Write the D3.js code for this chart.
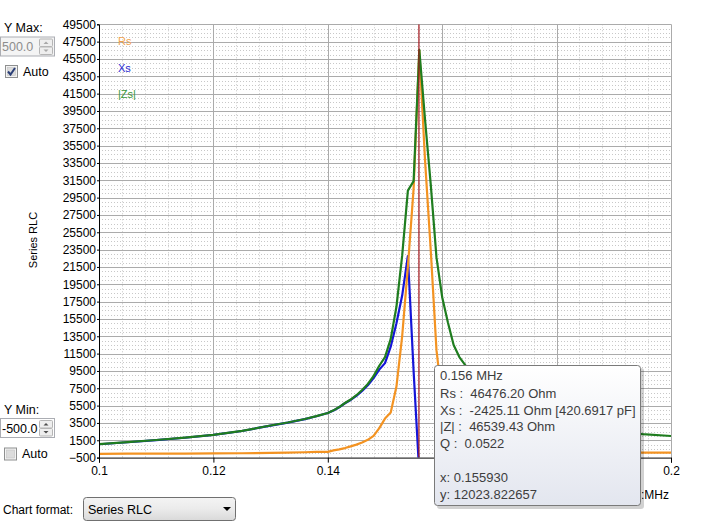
<!DOCTYPE html>
<html>
<head>
<meta charset="utf-8">
<script src="https://cdn.jsdelivr.net/npm/d3@7"></script>
<style>
  html, body { margin: 0; padding: 0; background: #ffffff; }
  svg { display: block; }
  text { font-family: "Liberation Sans", Arial, sans-serif; }
</style>
</head>
<body>
<svg id="chart" width="704" height="522"></svg>
<script>
// ---------------- DATA ----------------
const freqs = [0.100, 0.105, 0.110, 0.115, 0.120, 0.125, 0.130, 0.133, 0.136, 0.138,
  0.140, 0.141, 0.142, 0.143, 0.144, 0.145, 0.146, 0.147, 0.148, 0.149,
  0.150, 0.151, 0.152, 0.153, 0.154, 0.155, 0.156, 0.157, 0.158, 0.159,
  0.160, 0.161, 0.162, 0.163, 0.164, 0.165, 0.170, 0.175, 0.180, 0.185,
  0.190, 0.195, 0.200];
const rsValues = [-60, -50, -40, -30, -20, 0, 40, 80, 120, 170,
  160, 330, 450, 600, 800, 1000, 1250, 1550, 2000, 2900,
  4000, 4700, 7700, 13500, 21500, 30500, 46476, 33800, 23400, 11900,
  6200, 3600, 2300, 1600, 1200, 950, 450, 300, 200, 150,
  110, 80, 65];
const xsValues = [1040, 1270, 1520, 1790, 2120, 2570, 3190, 3540, 3940, 4270,
  4640, 4940, 5310, 5770, 6150, 6620, 7190, 7850, 8670, 9650,
  10400, 12300, 15000, 18200, 22760, 9500, -2425, -18900, -19200, -19300,
  -16900, -14700, -12300, -11000, -10100, -9250, -6180, -4590, -3590, -2995,
  -2548, -2198, -1989];
const zsValues = [1050, 1280, 1530, 1800, 2130, 2580, 3200, 3550, 3950, 4280,
  4650, 4950, 5330, 5800, 6200, 6700, 7300, 8000, 8900, 10100,
  11100, 13200, 16900, 22800, 30300, 31400, 46539, 38500, 31000, 22600,
  18000, 15100, 12500, 11100, 10200, 9300, 6200, 4600, 3600, 3000,
  2550, 2200, 1990];
const seriesNames = ["Rs", "Xs", "|Zs|"];
const seriesColors = ["#f39322", "#1515d8", "#1f7d1f"];
const legendColors = ["#f0a24e", "#2a2ad0", "#3a973a"];
const yTickValues = d3.range(-500, 49501, 2000);
const xTickValues = [0.1, 0.12, 0.14, 0.16, 0.18, 0.2];
const xTickLabels = ["0.1", "0.12", "0.14", "0.16", "0.18", "0.2"];
const cursorX = 0.155930;
const tooltipLines = ["0.156 MHz", "Rs :  46476.20 Ohm", "Xs :  -2425.11 Ohm [420.6917 pF]",
  "|Z| :  46539.43 Ohm", "Q :  0.0522", "", "x: 0.155930", "y: 12023.822657"];

// ---------------- LAYOUT ----------------
const svg = d3.select("#chart");
const plotL = 99, plotR = 671, plotT = 24.3, plotB = 457.6;
const tipBox = { x: 434.5, y: 365.5, w: 206, h: 140 };
const x = d3.scaleLinear().domain([0.1, 0.2]).range([plotL, plotR]);
const y = d3.scaleLinear().domain([-500, 49500]).range([plotB, plotT]);

const defs = svg.append("defs");
defs.append("clipPath").attr("id", "plotclip").append("rect")
  .attr("x", plotL).attr("y", plotT).attr("width", plotR - plotL).attr("height", plotB - plotT);

// grid
const grid = svg.append("g");
const yMinor = d3.range(-500, 49500, 500).filter(v => (v + 500) % 2000 !== 0);
grid.selectAll("line.ymin").data(yMinor).enter().append("line")
  .attr("x1", plotL).attr("x2", plotR)
  .attr("y1", d => Math.round(y(d)) + 0.5).attr("y2", d => Math.round(y(d)) + 0.5)
  .attr("stroke", "#c8c8c8").attr("stroke-width", 1).attr("stroke-dasharray", "1,2");
const xMinor = d3.range(0, 26).map(i => 0.1 + i * 0.004).filter((v, i) => i % 5 !== 0);
grid.selectAll("line.xmin").data(xMinor).enter().append("line")
  .attr("y1", plotT).attr("y2", plotB)
  .attr("x1", d => Math.round(x(d)) + 0.5).attr("x2", d => Math.round(x(d)) + 0.5)
  .attr("stroke", "#c8c8c8").attr("stroke-width", 1).attr("stroke-dasharray", "1,2");
grid.selectAll("line.ymaj").data(yTickValues.slice(1)).enter().append("line")
  .attr("x1", plotL).attr("x2", plotR)
  .attr("y1", d => Math.round(y(d)) + 0.5).attr("y2", d => Math.round(y(d)) + 0.5)
  .attr("stroke", "#ababab").attr("stroke-width", 1);
grid.selectAll("line.xmaj").data(xTickValues.slice(1)).enter().append("line")
  .attr("y1", plotT).attr("y2", plotB)
  .attr("x1", d => Math.round(x(d)) + 0.5).attr("x2", d => Math.round(x(d)) + 0.5)
  .attr("stroke", "#ababab").attr("stroke-width", 1);

// lines
const plotG = svg.append("g").attr("clip-path", "url(#plotclip)");
const seriesData = [rsValues, xsValues, zsValues];
const drawOrder = [1, 0, 2];
drawOrder.forEach(si => {
  const line = d3.line().x((d, i) => x(freqs[i])).y(d => y(d));
  plotG.append("path").datum(seriesData[si])
    .attr("d", line)
    .attr("fill", "none")
    .attr("stroke", seriesColors[si])
    .attr("stroke-width", 2.2)
    .attr("stroke-linejoin", "round");
});
// cursor
plotG.append("line")
  .attr("x1", x(cursorX)).attr("x2", x(cursorX))
  .attr("y1", plotT).attr("y2", plotB)
  .attr("stroke", "#a3161c").attr("stroke-width", 1.2);

// axes
const yAxis = d3.axisLeft(y).tickValues(yTickValues).tickSize(2).tickPadding(1).tickFormat(d3.format("d"));
const yg = svg.append("g").attr("transform", `translate(${plotL},0)`).call(yAxis);
yg.selectAll("text").attr("font-size", 12).attr("fill", "#000").attr("font-family", "Liberation Sans, Arial, sans-serif");
yg.selectAll("line,path").attr("stroke", "#000");

const xAxis = d3.axisBottom(x).tickValues(xTickValues).tickSize(5).tickPadding(4)
  .tickFormat((d, i) => xTickLabels[i]);
const xg = svg.append("g").attr("transform", `translate(0,${plotB})`).call(xAxis);
xg.selectAll("text").attr("font-size", 12).attr("fill", "#000").attr("font-family", "Liberation Sans, Arial, sans-serif");
xg.selectAll("line,path").attr("stroke", "#000");
// tick labels that sit under the data tooltip are hidden, as in the original
xg.selectAll(".tick").filter(d => x(d) > tipBox.x && x(d) < tipBox.x + tipBox.w).select("text").remove();

// axis titles
svg.append("text").attr("transform", "translate(37,240) rotate(-90)")
  .attr("text-anchor", "middle").attr("font-size", 11).attr("fill", "#000").text("Series RLC");
defs.append("clipPath").attr("id", "titleclip").append("rect")
  .attr("x", tipBox.x + tipBox.w + 1).attr("y", 480).attr("width", 80).attr("height", 30);
svg.append("text").attr("x", 669).attr("y", 499).attr("clip-path", "url(#titleclip)")
  .attr("text-anchor", "end").attr("font-size", 12).attr("fill", "#000").text("Freqs:MHz");

// legend
const legY = [41, 68, 94];
seriesNames.forEach((n, i) => {
  svg.append("text").attr("x", 118).attr("y", legY[i]).attr("dy", "0.35em")
    .attr("font-size", 11).attr("fill", legendColors[i]).text(n);
});

// ---------------- TOOLTIP ----------------
const tg = svg.append("g");
const grad = defs.append("linearGradient").attr("id", "tipgrad").attr("x1", 0).attr("y1", 0).attr("x2", 0).attr("y2", 1);
grad.append("stop").attr("offset", "0%").attr("stop-color", "#ffffff");
grad.append("stop").attr("offset", "100%").attr("stop-color", "#e3e6ef");
tg.append("rect").attr("x", tipBox.x + 2.5).attr("y", tipBox.y + 2.5).attr("width", tipBox.w + 1).attr("height", tipBox.h + 1)
  .attr("rx", 3).attr("fill", "#000").attr("opacity", 0.18);
tg.append("rect").attr("x", tipBox.x).attr("y", tipBox.y).attr("width", tipBox.w).attr("height", tipBox.h)
  .attr("rx", 3).attr("fill", "url(#tipgrad)").attr("stroke", "#7a7a7a").attr("stroke-width", 1);
const tipY = [375.7, 393.0, 410.0, 426.7, 443.3, 460, 477.3, 494.7];
tooltipLines.forEach((t, i) => {
  if (!t) return;
  tg.append("text").attr("x", 440).attr("y", tipY[i]).attr("dy", "0.35em")
    .attr("font-size", 13).attr("fill", "#3d3d3d").attr("xml:space", "preserve")
    .style("white-space", "pre").text(t);
});

// ---------------- CONTROLS ----------------
function spinner(g, yTop, value, disabled) {
  g.append("rect").attr("x", 0.5).attr("y", yTop + 0.5).attr("width", 54).attr("height", 19)
    .attr("fill", disabled ? "#f4f4f4" : "#ffffff").attr("stroke", "#abadb3");
  g.append("text").attr("x", 2).attr("y", yTop + 10.5).attr("dy", "0.35em")
    .attr("font-size", 12.5).attr("fill", disabled ? "#8d8d8d" : "#000").text(value);
  [0, 1].forEach(k => {
    const by = yTop + 2 + k * 8;
    g.append("rect").attr("x", 39.5).attr("y", by + 0.5).attr("width", 13).attr("height", 7.5)
      .attr("fill", "#eeeeee").attr("stroke", "#b5b5b5").attr("rx", 1);
    const cx = 46, cy = by + 4.3;
    const pts = k === 0 ? [[cx - 2.5, cy + 1.3], [cx + 2.5, cy + 1.3], [cx, cy - 1.3]]
                        : [[cx - 2.5, cy - 1.3], [cx + 2.5, cy - 1.3], [cx, cy + 1.3]];
    g.append("polygon").attr("points", pts.map(p => p.join(",")).join(" "))
      .attr("fill", disabled ? "#a8a8a8" : "#4d4d4d");
  });
}
function checkbox(g, bx, by, checked, label) {
  g.append("rect").attr("x", bx + 0.5).attr("y", by + 0.5).attr("width", 12).attr("height", 12)
    .attr("fill", "#f3f3f3").attr("stroke", "#8e8f8f");
  g.append("rect").attr("x", bx + 2.5).attr("y", by + 2.5).attr("width", 8).attr("height", 8)
    .attr("fill", "#dcdcdc").attr("stroke", "#c4c4c4").attr("stroke-width", 0.6);
  if (checked) {
    g.append("path").attr("d", `M${bx + 3},${by + 6.5} L${bx + 5.5},${by + 9.5} L${bx + 10},${by + 3}`)
      .attr("fill", "none").attr("stroke", "#2b3f77").attr("stroke-width", 2);
  }
  g.append("text").attr("x", bx + 18).attr("y", by + 6.5).attr("dy", "0.35em")
    .attr("font-size", 12.5).attr("fill", "#000").text(label);
}
const cg = svg.append("g");
cg.append("text").attr("x", 4).attr("y", 27.5).attr("dy", "0.35em").attr("font-size", 12.5).text("Y Max:");
spinner(cg, 36.5, "500.0", true);
checkbox(cg, 5, 65, true, "Auto");
cg.append("text").attr("x", 4).attr("y", 410).attr("dy", "0.35em").attr("font-size", 12.5).text("Y Min:");
spinner(cg, 418, "-500.0", false);
checkbox(cg, 4, 447.5, false, "Auto");
cg.append("text").attr("x", 3).attr("y", 510).attr("dy", "0.35em").attr("font-size", 12).text("Chart format:");
const cgrad = defs.append("linearGradient").attr("id", "cbgrad").attr("x1", 0).attr("y1", 0).attr("x2", 0).attr("y2", 1);
cgrad.append("stop").attr("offset", "0%").attr("stop-color", "#f4f4f4");
cgrad.append("stop").attr("offset", "50%").attr("stop-color", "#ebebeb");
cgrad.append("stop").attr("offset", "100%").attr("stop-color", "#d9d9d9");
cg.append("rect").attr("x", 83.5).attr("y", 497.5).attr("width", 152).attr("height", 23).attr("rx", 3)
  .attr("fill", "url(#cbgrad)").attr("stroke", "#707070");
cg.append("text").attr("x", 88).attr("y", 510).attr("dy", "0.35em").attr("font-size", 12.5).text("Series RLC");
cg.append("polygon").attr("points", "223,507 231,507 227,511").attr("fill", "#000");
</script>
</body>
</html>
